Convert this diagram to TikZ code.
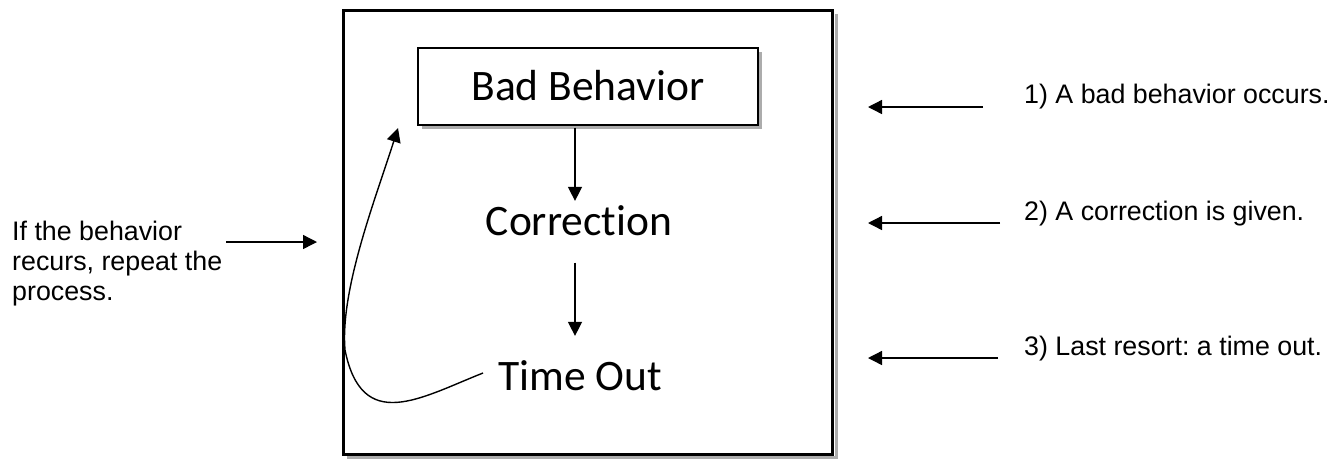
\documentclass[tikz,border=0pt]{standalone}
\usepackage{fontspec}
\setmainfont{Liberation Sans}
\newfontfamily\calfont[Ligatures=NoCommon]{Carlito}
\usetikzlibrary{arrows.meta,shadows}
\frenchspacing
\begin{document}
\begin{tikzpicture}[x=1pt,y=-1pt,
  arr/.style={line width=1.4pt, -{Triangle[width=14pt,length=14pt]}},
  lbl/.style={font=\calfont\fontsize{43.5}{50}\selectfont, inner sep=0pt},
  note/.style={font=\fontsize{26.8}{30}\selectfont, inner sep=0pt, align=left},
  frame/.style={line width=3pt},
  shade/.style={gray!65},
]
\useasboundingbox (0,0) rectangle (1340,459);
\fill[white] (0,0) rectangle (1340,459);
% outer frame with shadow
\draw[shade, line width=3pt] (836,14) -- (836,457) -- (347,457);
\draw[frame] (343,10) rectangle (832,454);
% nodes
\node[lbl, draw, fill=white, line width=1.3pt, minimum width=340pt, minimum height=77pt,
      text height=28pt, text depth=0pt,
      drop shadow={shadow xshift=3.5pt, shadow yshift=-3.5pt, fill=gray!65, opacity=1}]
      (bb) at (588,86.5) {Bad Behavior};
\node[lbl, anchor=base] (corr) at (579,235) {Correction};
\node[lbl, anchor=base] (to) at (580,390) {Time Out};
% vertical connectors
\coordinate (xv) at (575,0);
\draw[arr, shorten <=2pt, shorten >=4pt] (bb.south -| xv) -- (corr.north -| xv);
\draw[arr, shorten <=27pt, shorten >=24pt] (corr.south -| xv) -- (to.north -| xv);
% loop-back arrow
\coordinate (loopstart) at (483,373);
\coordinate (loopmid) at (345,350);
\coordinate (looptip) at (398,128);
\draw[arr] (loopstart) .. controls (420,398) and (362,434) .. (loopmid)
           .. controls (340,290) and (375,200) .. (looptip);
% left note
\node[note, anchor=north west] (lt) at (12,221) {If the behavior\\recurs, repeat the\\process.};
\coordinate (la) at (317,242);
\draw[arr] ([xshift=4pt]lt.east |- la) -- (la);
% right notes
\node[note, anchor=base west] (r1) at (1024,103) {1) A bad behavior occurs.};
\node[note, anchor=base west] (r2) at (1024,220) {2) A correction is given.};
\node[note, anchor=base west] (r3) at (1024,355) {3) Last resort: a time out.};
\coordinate (e1) at (983,107); \coordinate (p1) at (868,107);
\coordinate (e2) at (1000,223); \coordinate (p2) at (868,223);
\coordinate (e3) at (998,358); \coordinate (p3) at (868,358);
\draw[arr] (e1) -- (p1);
\draw[arr] (e2) -- (p2);
\draw[arr] (e3) -- (p3);
\end{tikzpicture}
\end{document}
